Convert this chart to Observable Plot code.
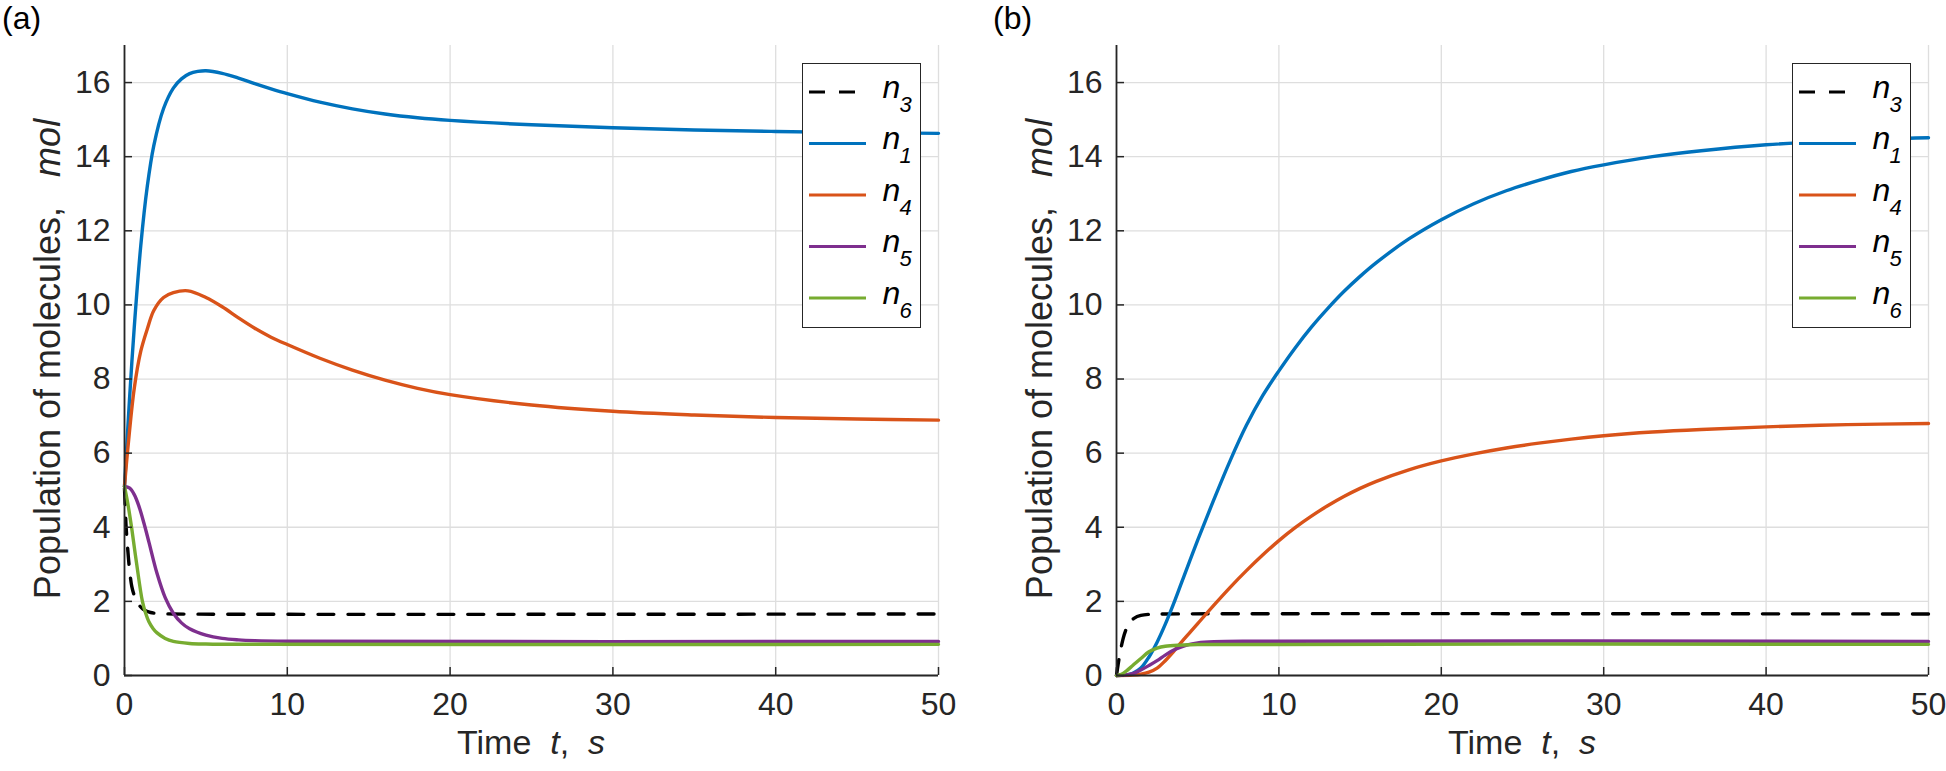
<!DOCTYPE html>
<html>
<head>
<meta charset="utf-8">
<script src="https://cdn.jsdelivr.net/npm/d3@7"></script>
<script src="https://cdn.jsdelivr.net/npm/@observablehq/plot@0.6"></script>
<style>
  body { margin: 0; background: #fff; }
  #wrap { position: relative; width: 1946px; height: 771px; overflow: hidden;
          font-family: "Liberation Sans", Arial, Helvetica, sans-serif; color: #262626; }
  .panel { position: absolute; top: 0; }
  .plab { position: absolute; font-size: 32px; line-height: 36px; color: #000; white-space: pre; }
  .xlab { position: absolute; font-size: 34px; line-height: 40px; white-space: pre; transform: translateX(-50%); }
  .ylab { position: absolute; font-size: 36px; line-height: 30px; white-space: pre;
          transform: translate(-50%, -50%) rotate(-90deg); }
  .legend { position: absolute; box-sizing: border-box; border: 1.5px solid #262626; background: #fff; }
  .legend .n { position: absolute; font-style: italic; font-size: 32px; line-height: 1; color: #000; }
  .legend .sub { position: absolute; font-style: italic; font-size: 22px; line-height: 1; color: #000; }
</style>
</head>
<body>
<div id="wrap"></div>
<script>
// ---------- data ----------
const tTicks = [0, 10, 20, 30, 40, 50];
const yTicks = [0, 2, 4, 6, 8, 10, 12, 14, 16];
const seriesNames = ["3", "1", "4", "5", "6"];           // legend order n3, n1, n4, n5, n6
const seriesColors = ["#000000", "#0072BD", "#D95319", "#7E2F8E", "#77AC30"];
const seriesDash = ["16,14", null, null, null, null];

// Panel (a)
const a_n3_t = [0, 0.05, 0.1, 0.2, 0.3, 0.45, 0.65, 0.9, 1.2, 1.6, 2.2, 3, 50];
const a_n3_v = [5.05, 4.5, 4.0, 3.4, 2.9, 2.4, 2.1, 1.9, 1.77, 1.7, 1.67, 1.66, 1.66];
const a_n1_t = [0, 0.3, 0.6, 1, 1.4, 1.8, 2.4, 3, 3.5, 4, 4.5, 5, 6, 7, 8, 9, 10, 12, 14, 16, 18, 20, 25, 30, 35, 40, 45, 50];
const a_n1_v = [5.1, 7.4, 9.4, 11.6, 13.2, 14.3, 15.3, 15.85, 16.1, 16.24, 16.3, 16.32, 16.25, 16.12, 15.97, 15.83, 15.7, 15.47, 15.29, 15.15, 15.05, 14.98, 14.86, 14.78, 14.72, 14.68, 14.65, 14.63];
const a_n4_t = [0, 0.2, 0.6, 1, 1.4, 1.8, 2.4, 3, 3.9, 5, 6, 7, 8, 9, 10, 12, 14, 16, 18, 20, 25, 30, 35, 40, 45, 50];
const a_n4_v = [5.1, 6.1, 7.75, 8.75, 9.35, 9.85, 10.2, 10.33, 10.38, 10.2, 9.95, 9.65, 9.37, 9.13, 8.93, 8.56, 8.24, 7.97, 7.75, 7.58, 7.3, 7.13, 7.03, 6.96, 6.92, 6.89];
const a_n5_t = [0, 0.3, 0.6, 0.9, 1.2, 1.5, 2, 2.5, 3, 3.5, 4, 5, 6, 7, 8, 10, 50];
const a_n5_v = [5.1, 5.06, 4.88, 4.55, 4.1, 3.6, 2.75, 2.1, 1.68, 1.42, 1.26, 1.09, 1.0, 0.96, 0.94, 0.925, 0.92];
const a_n6_t = [0, 0.2, 0.45, 0.75, 1.1, 1.3, 1.5, 1.75, 2, 2.5, 3, 4, 5, 6, 50];
const a_n6_v = [5.1, 4.65, 3.95, 3.0, 2.0, 1.68, 1.45, 1.27, 1.15, 1.0, 0.92, 0.865, 0.848, 0.842, 0.84];

// Panel (b)
const b_n3_t = [0, 0.1, 0.25, 0.4, 0.55, 0.8, 1.1, 1.5, 2, 3, 50];
const b_n3_v = [0, 0.3, 0.68, 0.98, 1.2, 1.42, 1.55, 1.62, 1.65, 1.66, 1.66];
const b_n1_t = [0, 0.5, 1, 1.5, 2, 2.5, 3, 3.5, 4, 4.5, 5, 6, 7, 8, 9, 10, 11, 12, 13, 14, 15, 16, 18, 20, 22, 24, 26, 28, 30, 33, 36, 40, 45, 50];
const b_n1_v = [0, 0.01, 0.06, 0.2, 0.5, 0.9, 1.38, 1.92, 2.5, 3.08, 3.65, 4.75, 5.8, 6.75, 7.55, 8.22, 8.84, 9.4, 9.9, 10.36, 10.77, 11.14, 11.78, 12.3, 12.73, 13.08, 13.36, 13.6, 13.78, 14.0, 14.16, 14.32, 14.44, 14.51];
const b_n4_t = [0, 1, 1.5, 2, 2.5, 3, 3.5, 4, 4.5, 5, 6, 7, 8, 9, 10, 11, 12, 13, 14, 15, 16, 18, 20, 22, 24, 26, 28, 30, 33, 36, 40, 45, 50];
const b_n4_v = [0, 0.01, 0.035, 0.09, 0.2, 0.4, 0.64, 0.9, 1.15, 1.4, 1.9, 2.38, 2.83, 3.25, 3.64, 3.99, 4.3, 4.58, 4.83, 5.05, 5.24, 5.55, 5.79, 5.98, 6.14, 6.27, 6.38, 6.47, 6.57, 6.64, 6.71, 6.77, 6.8];
const b_n5_t = [0, 0.5, 1, 1.5, 2, 2.5, 3, 3.5, 4, 4.5, 5, 6, 8, 50];
const b_n5_v = [0, 0.01, 0.05, 0.15, 0.27, 0.4, 0.55, 0.68, 0.77, 0.84, 0.88, 0.91, 0.925, 0.92];
const b_n6_t = [0, 0.3, 0.6, 1, 1.5, 2, 2.5, 3, 4, 5, 50];
const b_n6_v = [0, 0.03, 0.12, 0.27, 0.46, 0.64, 0.74, 0.79, 0.82, 0.835, 0.84];

const panelA = [[a_n3_t, a_n3_v], [a_n1_t, a_n1_v], [a_n4_t, a_n4_v], [a_n5_t, a_n5_v], [a_n6_t, a_n6_v]];
const panelB = [[b_n3_t, b_n3_v], [b_n1_t, b_n1_v], [b_n4_t, b_n4_v], [b_n5_t, b_n5_v], [b_n6_t, b_n6_v]];

// ---------- drawing ----------
const FONT = '"Liberation Sans", Arial, Helvetica, sans-serif';
const W = 973, H = 771, MT = 45, MB = 96;
const wrap = document.getElementById("wrap");

function makePanel(series, mL, mR) {
  const plotW = W - mL - mR, plotH = H - MT - MB;
  const lineMarks = series.map(([t, v], i) =>
    Plot.line(t.map((ti, j) => ({t: ti, v: v[j]})), {
      x: "t", y: "v", stroke: seriesColors[i], strokeWidth: 3.4,
      strokeDasharray: seriesDash[i] || undefined, curve: "catmull-rom",
      strokeLinejoin: "round"
    }));
  return Plot.plot({
    width: W, height: H,
    marginLeft: mL, marginRight: mR, marginTop: MT, marginBottom: MB,
    x: {domain: [0, 50]},
    y: {domain: [0, 17]},
    style: {fontFamily: FONT, fontSize: "32px", color: "#262626", background: "transparent", overflow: "visible"},
    marks: [
      Plot.gridX(tTicks, {stroke: "#dedede", strokeOpacity: 1, strokeWidth: 1.3}),
      Plot.gridY(yTicks, {stroke: "#dedede", strokeOpacity: 1, strokeWidth: 1.3}),
      ...lineMarks,
      Plot.tickX(tTicks, {x: d => d, insetTop: plotH - 8, stroke: "#262626", strokeWidth: 1.5}),
      Plot.tickY(yTicks, {y: d => d, insetRight: plotW - 8, stroke: "#262626", strokeWidth: 1.5}),
      Plot.ruleX([0], {stroke: "#262626", strokeWidth: 1.8}),
      Plot.ruleY([0], {stroke: "#262626", strokeWidth: 1.8}),
      Plot.axisX(tTicks, {tickSize: 0, tickPadding: 17, label: null, fontSize: 32}),
      Plot.axisY(yTicks, {tickSize: 0, tickPadding: 14, label: null, fontSize: 32})
    ]
  });
}

function addPanel(left, series, mL, mR, labelText) {
  const svg = makePanel(series, mL, mR);
  const holder = document.createElement("div");
  holder.className = "panel";
  holder.style.left = left + "px";
  holder.appendChild(svg);
  wrap.appendChild(holder);

  const x0 = left + mL, x1 = left + W - mR;
  // panel label
  const pl = document.createElement("div");
  pl.className = "plab";
  pl.textContent = labelText;
  pl.style.left = (left === 0 ? 2 : left + 20) + "px";
  pl.style.top = "0px";
  wrap.appendChild(pl);
  // x label
  const xl = document.createElement("div");
  xl.className = "xlab";
  xl.innerHTML = "Time&nbsp;&nbsp;<i>t</i>,&nbsp;&nbsp;<i>s</i>";
  xl.style.left = ((x0 + x1) / 2) + "px";
  xl.style.top = "722px";
  wrap.appendChild(xl);
  // y label
  const yl = document.createElement("div");
  yl.className = "ylab";
  yl.innerHTML = "Population of molecules,&nbsp;&nbsp;&nbsp;<i>mol</i>";
  yl.style.left = (x0 - 76) + "px";
  yl.style.top = "359px";
  wrap.appendChild(yl);
  // legend
  const lg = document.createElement("div");
  lg.className = "legend";
  const lgLeft = x1 - 136, lgTop = 63;
  lg.style.left = lgLeft + "px";
  lg.style.top = lgTop + "px";
  lg.style.width = "119px";
  lg.style.height = "265px";
  const ns = "http://www.w3.org/2000/svg";
  const lsvg = document.createElementNS(ns, "svg");
  lsvg.setAttribute("width", 119); lsvg.setAttribute("height", 265);
  lsvg.style.position = "absolute"; lsvg.style.left = "-1.5px"; lsvg.style.top = "-1.5px";
  seriesNames.forEach((nm, i) => {
    const cy = 29 + i * 51.5;
    const ln = document.createElementNS(ns, "line");
    ln.setAttribute("x1", 7); ln.setAttribute("x2", 64);
    ln.setAttribute("y1", cy); ln.setAttribute("y2", cy);
    ln.setAttribute("stroke", seriesColors[i]); ln.setAttribute("stroke-width", 3);
    if (seriesDash[i]) ln.setAttribute("stroke-dasharray", seriesDash[i]);
    lsvg.appendChild(ln);
    const n = document.createElement("div");
    n.className = "n"; n.textContent = "n";
    n.style.left = (81 - 1.5) + "px";
    n.style.top = (cy + 6 - 27 - 1.5) + "px";
    lg.appendChild(n);
    const s = document.createElement("div");
    s.className = "sub"; s.textContent = nm;
    s.style.left = (98 - 1.5) + "px";
    s.style.top = (cy + 21 - 18.6 - 1.5) + "px";
    lg.appendChild(s);
  });
  lg.insertBefore(lsvg, lg.firstChild);
  wrap.appendChild(lg);
}

addPanel(0, panelA, 124, 35, "(a)");
addPanel(973, panelB, 143, 18, "(b)");
</script>
</body>
</html>
